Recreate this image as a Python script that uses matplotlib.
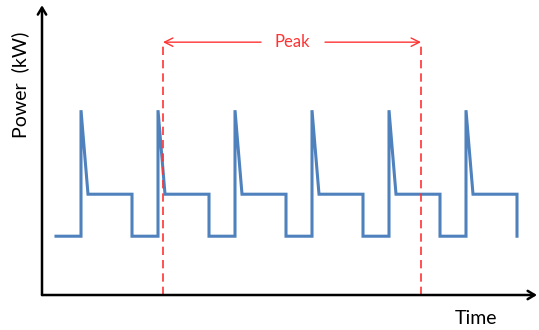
import matplotlib.pyplot as plt

# waveform corner points (time, power) in arbitrary units
time = [1.4, 3.9, 3.9, 4.6, 9.0, 9.0,
        11.6, 11.6, 12.3, 16.7, 16.7,
        19.3, 19.3, 20.0, 24.4, 24.4,
        27.0, 27.0, 27.7, 32.1, 32.1,
        34.7, 34.7, 35.4, 39.8, 39.8,
        42.4, 42.4, 43.1, 47.5, 47.5]
power = [1.4, 1.4, 4.4, 2.4, 2.4, 1.4,
         1.4, 4.4, 2.4, 2.4, 1.4,
         1.4, 4.4, 2.4, 2.4, 1.4,
         1.4, 4.4, 2.4, 2.4, 1.4,
         1.4, 4.4, 2.4, 2.4, 1.4,
         1.4, 4.4, 2.4, 2.4, 1.4]

peak_start, peak_end = 12.1, 37.9
peak_label = "Peak"
x_label = "Time"
y_label = "Power  (kW)"

plt.rcParams['font.family'] = ['Lato', 'DejaVu Sans']

fig = plt.figure(figsize=(5.39, 3.30), dpi=100)
ax = fig.add_axes([0, 0, 1, 1])
ax.set_xlim(-4.2, 49.7)
ax.set_ylim(-0.833, 7.024)
ax.axis('off')

# the waveform
ax.plot(time, power, color='#4f81bd', lw=2.2, solid_joinstyle='miter')

# axes as arrows
arrow_kw = dict(arrowstyle='->,head_length=0.5,head_width=0.3', color='black', lw=1.8,
                shrinkA=0, shrinkB=0)
ax.annotate('', xy=(49.5, 0), xytext=(0, 0), arrowprops=arrow_kw)
ax.annotate('', xy=(0, 6.9), xytext=(0, 0), arrowprops=arrow_kw)

# peak window
red = '#ff3333'
peak_y = 6.02
for x in (peak_start, peak_end):
    ax.plot([x, x], [0, peak_y], color=red, lw=1.2, dashes=(5, 3))
red_kw = dict(arrowstyle='->,head_length=0.6,head_width=0.3', color=red, lw=1.0,
              shrinkA=0, shrinkB=0)
mid = (peak_start + peak_end) / 2
ax.annotate('', xy=(peak_start, peak_y), xytext=(mid - 3.1, peak_y), arrowprops=red_kw)
ax.annotate('', xy=(peak_end, peak_y), xytext=(mid + 3.3, peak_y), arrowprops=red_kw)
ax.text(mid, peak_y, peak_label, color=red, fontsize=12, ha='center', va='center')

ax.text(43.4, -0.55, x_label, fontsize=14, ha='center', va='center')
ax.text(-2.2, 5.0, y_label, fontsize=14, ha='center', va='center', rotation=90)

fig.savefig('out.png', dpi=100)
